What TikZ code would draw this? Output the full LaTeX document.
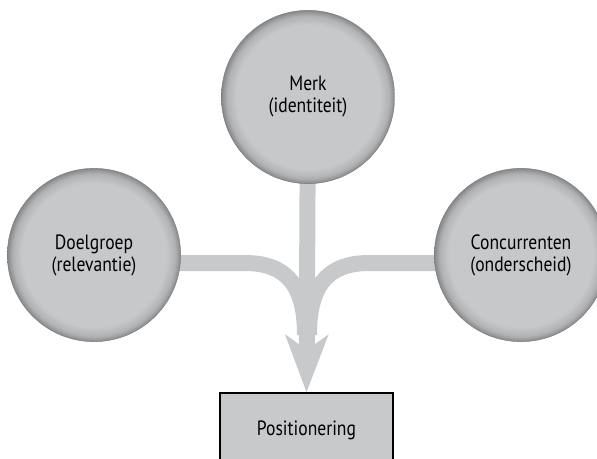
\documentclass[tikz,border=0pt]{standalone}
\usepackage{fontspec}
\setmainfont{PT Sans}[FakeStretch=0.85]
\usetikzlibrary{arrows.meta,calc}
\definecolor{ballgray}{RGB}{199,200,202}
\definecolor{ballrim}{RGB}{120,120,122}
\definecolor{bandgray}{RGB}{200,201,203}
\pgfdeclareradialshading{ballshade}{\pgfpoint{0bp}{0bp}}{color(0bp)=(ballgray); color(20.8bp)=(ballgray); color(23.4bp)=(ballgray!89!black); color(25bp)=(ballgray!68!black); color(50bp)=(ballgray!68!black)}
\pgfdeclarelayer{bg}
\pgfsetlayers{bg,main}

\begin{document}
\begin{tikzpicture}[x=0.75pt,y=-0.75pt,
  ball/.style={circle,shading=ballshade,draw=ballrim,line width=0.3pt,inner sep=0pt,
    minimum size=130pt,align=center,font=\fontsize{15.5}{16.5}\selectfont},
  band/.style={draw=bandgray,line width=12pt},
  posbox/.style={draw=black,fill=bandgray,line width=0.8pt,minimum width=129.75pt,
    minimum height=55.5pt,font=\fontsize{15.5}{16.5}\selectfont}]
\path[use as bounding box,clip] (0,0) rectangle (597,458);
% the three circles and the box
\node[ball] (merk) at (308,97) {Merk\\(identiteit)};
\node[ball] (doel) at (94,255) {Doelgroep\\(relevantie)};
\node[ball] (conc) at (521,255) {Concurrenten\\(onderscheid)};
\node[posbox] (pos) at (306.5,430) {Positionering};
\coordinate (merge) at (307,335);
% grey bands behind the circles
\begin{pgfonlayer}{bg}
\draw[band] (doel.center |- 0,263) -- (245,263) .. controls (290,263) and ($(merge)+(-2,-45)$) .. ($(merge)+(-2,0)$);
\draw[band] (conc.center |- 0,263) -- (369,263) .. controls (324,263) and ($(merge)+(2,-45)$) .. ($(merge)+(2,0)$);
\draw[band,-{Stealth[length=42.75pt,width=31.5pt,inset=11pt]}] (merk.center) -- (pos.north);
\end{pgfonlayer}
\end{tikzpicture}
\end{document}
